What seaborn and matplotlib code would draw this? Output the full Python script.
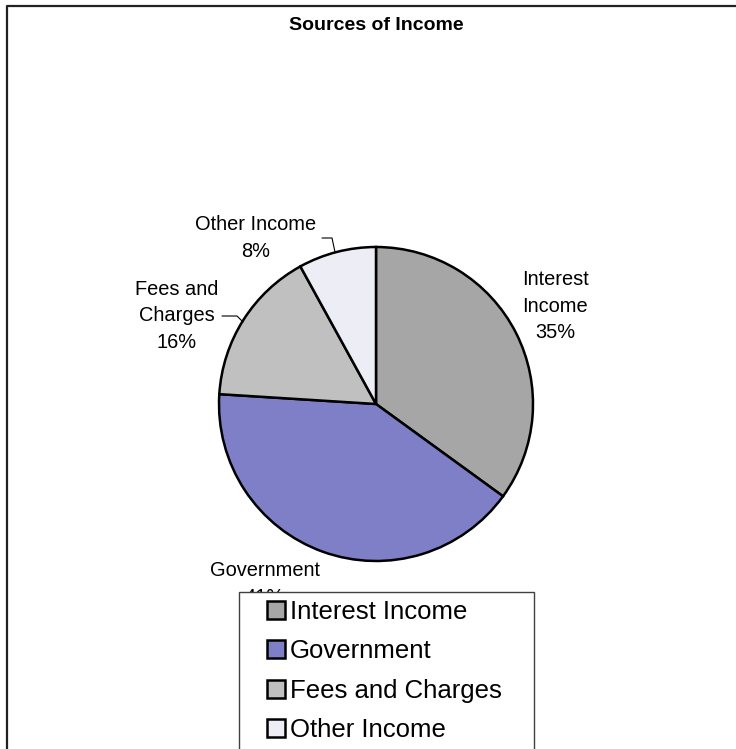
import matplotlib
matplotlib.use("Agg")
import matplotlib.pyplot as plt
from matplotlib.lines import Line2D
from matplotlib.patches import Rectangle
import seaborn as sns

# Income shares (percent)
categories = ["Interest Income", "Government", "Fees and Charges", "Other Income"]
shares = [35, 41, 16, 8]
slice_names = ["Interest\nIncome", "Government", "Fees and\nCharges", "Other Income"]
colors = ["#A6A6A6", "#7F7FC8", "#C0C0C0", "#EDEDF6"]

sns.set_theme(style="white")
plt.rcParams["font.family"] = ["Liberation Sans", "DejaVu Sans"]
plt.rcParams["text.color"] = "black"

W, H = 736, 749
fig = plt.figure(figsize=(W / 100, H / 100), dpi=100)
fig.patch.set_facecolor("white")


def fx(px):
    return px / W


def fy(py):
    return 1 - py / H


# pie axis spanning the figure, one data unit = pie radius
cx, cy, r = 376, 404, 157
ax = fig.add_axes([0, 0, 1, 1])
wedges, _ = ax.pie(
    shares,
    colors=colors,
    startangle=90,
    counterclock=False,
    radius=1,
    wedgeprops=dict(edgecolor="black", linewidth=1.8),
)
ax.set_xlim(-cx / r, (W - cx) / r)
ax.set_ylim(-(H - cy) / r, cy / r)
ax.set_aspect("auto")
ax.axis("off")

# outer chart frame (left and top edges)
ax.add_line(Line2D([fx(7), fx(7), fx(W + 5)], [fy(H + 5), fy(5.5), fy(5.5)],
                   transform=fig.transFigure, color="#222222", lw=1.6,
                   clip_on=False))

ax.text(fx(376), fy(25), "Sources of Income", transform=fig.transFigure,
        ha="center", va="center", fontsize=14, fontweight="bold",
        color="black")

# slice labels
label_pos = [(555, 306), (265, 584), (177, 316), (256, 238)]
for name, v, (px, py) in zip(slice_names, shares, label_pos):
    ax.text(fx(px), fy(py), f"{name}\n{v}%", transform=fig.transFigure,
            ha="center", va="center", multialignment="center",
            fontsize=14.4, linespacing=1.49, color="black", zorder=3)

# leader lines
leaders = [
    ([222, 237, 243], [316, 316, 322]),
    ([322, 332, 335], [238, 238, 252]),
]
for xs, ys in leaders:
    ax.add_line(Line2D([fx(x) for x in xs], [fy(y) for y in ys],
                       transform=fig.transFigure, color="black", lw=0.8,
                       clip_on=False))

# legend box
ax.add_patch(Rectangle((fx(239), fy(H + 20)), fx(534) - fx(239),
                       fy(592) - fy(H + 20), transform=fig.transFigure,
                       facecolor="white", edgecolor="#404040", lw=1.0,
                       zorder=4, clip_on=False))
leg = ax.legend(wedges, categories, loc="upper left",
                bbox_to_anchor=(fx(267), fy(600)),
                bbox_transform=fig.transFigure, frameon=False,
                borderpad=0, borderaxespad=0, fontsize=18.5,
                handlelength=0.7, handleheight=0.7, handletextpad=0.2,
                labelspacing=0.6, labelcolor="black")
leg.set_zorder(5)

fig.savefig("out.png", dpi=100)
